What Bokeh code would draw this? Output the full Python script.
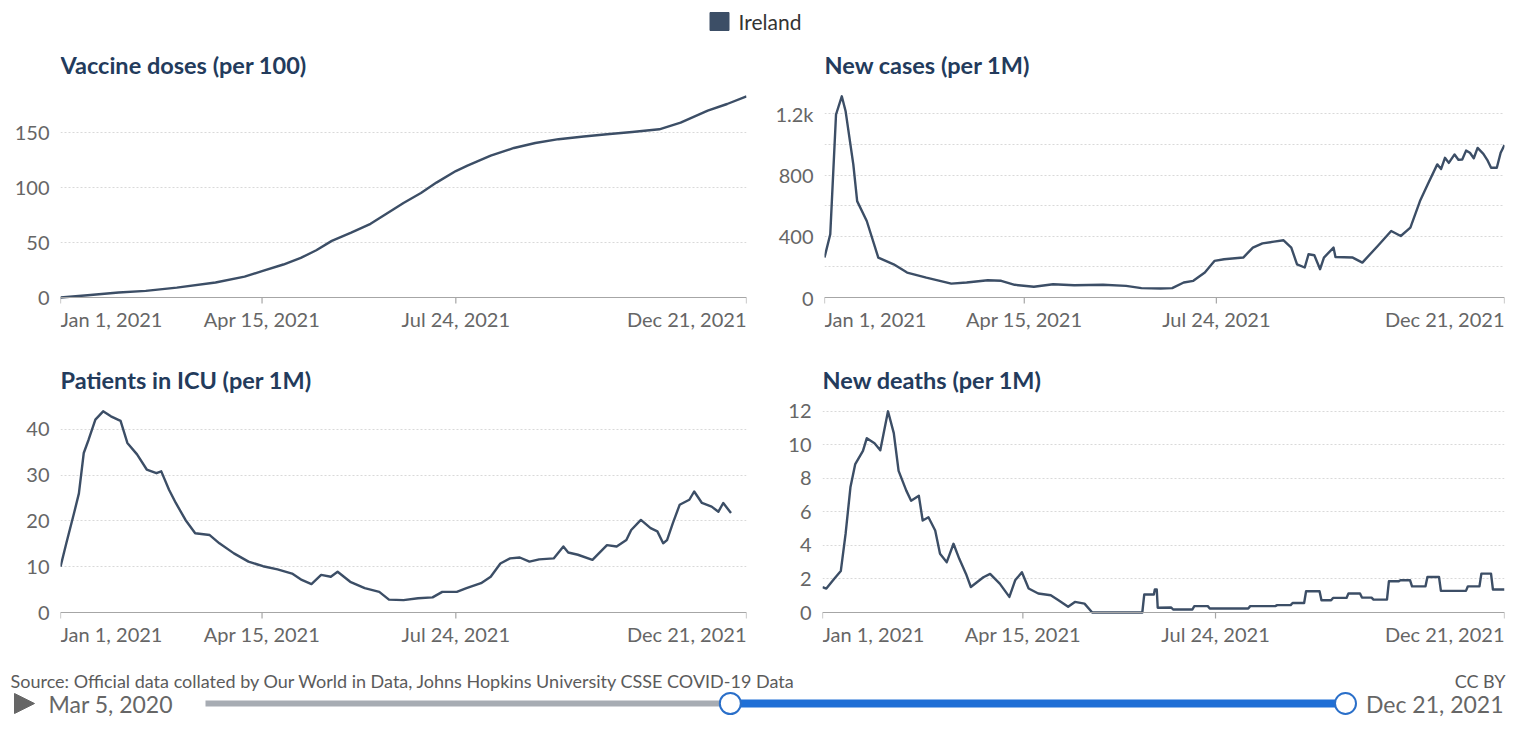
import pandas as pd
from bokeh.plotting import figure
from bokeh.layouts import column, row
from bokeh.models import Range1d, FixedTicker, Span
from bokeh.core.properties import value
from bokeh.embed import file_html
from bokeh.resources import INLINE

FONT = "Lato"
LINE_C = "#3c4e66"
TITLE_C = "#233b5c"
LABEL_C = "#666666"
GRID_C = "#d9d9d9"
AXIS_C = "#a6a6a6"

# ---------------- data ----------------
country = "Ireland"
x_start = "2021-01-01"
x_tick_dates = ["2021-01-01", "2021-04-15", "2021-07-24", "2021-12-21"]
x_tick_labels = ["Jan 1, 2021", "Apr 15, 2021", "Jul 24, 2021", "Dec 21, 2021"]

# days since 2021-01-01
vax_day = [0, 14, 30, 44, 60, 80, 95, 104, 115, 124, 132, 140, 150, 160, 168, 177,
           186, 194, 204, 210, 222, 234, 245, 257, 270, 282, 295, 309, 320, 334, 344, 354]
vax_val = [0, 2, 4.5, 6, 9, 13.6, 19, 24, 30, 36, 43, 51.5, 59, 67, 76, 86,
           95, 104.5, 115, 120, 129, 136, 140.5, 144, 146.5, 148.5, 150.5, 153, 159, 170, 176, 183]
vax_yticks = [0, 50, 100, 150]
vax_ylabels = ["0", "50", "100", "150"]

cases_day = [0, 3, 6, 9, 11, 15, 17, 22, 28, 36, 43, 53, 66, 74, 85, 92, 99, 109, 119, 130,
             145, 157, 165, 175, 181, 187, 192, 198, 203, 208, 218, 223, 228, 234, 239, 243,
             246, 250, 252, 255, 258, 260, 265, 266, 275, 280, 288, 295, 300, 305, 310, 314,
             319, 321, 323, 325, 328, 330, 332, 334, 336, 338, 340, 343, 345, 347, 350, 352, 354]
cases_val = [261, 413, 1196, 1315, 1217, 870, 630, 500, 261, 217, 163, 130, 91, 98, 113, 109,
             83, 70, 87, 80, 83, 76, 61, 59, 61, 98, 109, 163, 239, 250, 261, 326, 354, 365,
             374, 326, 217, 196, 283, 276, 185, 261, 326, 265, 261, 228, 337, 435, 402, 457,
             630, 739, 870, 840, 913, 880, 935, 900, 902, 960, 946, 910, 978, 939, 900, 848,
             848, 946, 996]
cases_yticks = [0, 200, 400, 600, 800, 1000, 1200]
cases_ylabels = ["0", "", "400", "", "800", "", "1.2k"]

icu_day = [0, 3, 7, 9.5, 12, 14.5, 18, 22, 26, 31, 34.5, 39.5, 44.5, 49.5, 52, 56, 59.5,
           64.5, 69.5, 77, 82, 89.5, 97, 104.5, 112, 119.5, 124.5, 129.5, 134.5, 139.5, 143,
           149.5, 157, 164.5, 169.5, 177, 184.5, 192, 197, 204.5, 209.5, 217, 222, 227, 232,
           237, 242, 247, 254.5, 259.5, 262, 267, 274.5, 282, 287, 292, 294.5, 299.5, 304.5,
           308, 311, 313, 316, 319.5, 324.5, 327, 331, 336, 339.5, 342, 346]
icu_val = [10, 15.1, 21.7, 26, 34.8, 37.7, 42.1, 43.9, 42.8, 41.8, 37, 34.5, 31.2, 30.4,
           30.8, 26.8, 23.9, 20.2, 17.3, 16.9, 15.1, 12.9, 11.1, 10.1, 9.4, 8.5, 7.1, 6.2,
           8.2, 7.8, 8.9, 6.7, 5.3, 4.5, 2.8, 2.7, 3.1, 3.3, 4.5, 4.5, 5.3, 6.4, 7.8, 10.7,
           11.8, 12.0, 11.1, 11.6, 11.8, 14.4, 13.1, 12.6, 11.5, 14.7, 14.4, 15.8, 18, 20.2,
           18.4, 17.7, 15.1, 15.8, 19.5, 23.5, 24.6, 26.4, 23.9, 23.1, 22, 23.9, 21.7]
icu_yticks = [0, 10, 20, 30, 40]
icu_ylabels = ["0", "10", "20", "30", "40"]

deaths_day = [0, 2, 6, 9.5, 12, 14.5, 17, 21, 23, 27, 30, 34, 37, 39.5, 43.5, 46, 50, 52,
              55, 58.5, 61, 64.5, 68, 71, 74.5, 77, 83.5, 87, 92, 97, 100, 103.5, 107, 112,
              118.5, 122.5, 127.5, 131, 136, 140, 166, 167, 172, 172.5, 173.5, 174, 181, 182,
              192, 193, 200, 201, 221, 222, 235, 236, 243, 244, 250, 251, 258, 259, 264, 265,
              272, 273, 279, 280, 285, 286, 293, 294, 299, 300, 305, 306, 313, 314, 320, 321,
              334, 335, 341, 342, 347, 348, 354]
deaths_val = [1.52, 1.43, 2.0, 2.47, 4.7, 7.47, 8.85, 9.64, 10.4, 10.1, 9.68, 12.0, 10.7,
              8.45, 7.27, 6.67, 6.97, 5.49, 5.68, 4.89, 3.5, 3.0, 4.1, 3.2, 2.3, 1.52, 2.1,
              2.3, 1.72, 0.93, 1.92, 2.4, 1.43, 1.13, 1.03, 0.73, 0.34, 0.63, 0.53, 0.0, 0.0,
              1.07, 1.07, 1.37, 1.37, 0.28, 0.3, 0.18, 0.18, 0.38, 0.38, 0.24, 0.24, 0.38,
              0.38, 0.44, 0.44, 0.57, 0.57, 1.27, 1.27, 0.73, 0.73, 0.87, 0.87, 1.13, 1.13,
              0.89, 0.89, 0.77, 0.77, 1.86, 1.86, 1.92, 1.92, 1.56, 1.56, 2.12, 2.12, 1.29,
              1.29, 1.56, 1.56, 2.32, 2.32, 1.37, 1.37]
deaths_yticks = [0, 2, 4, 6, 8, 10, 12]
deaths_ylabels = ["0", "2", "4", "6", "8", "10", "12"]

titles = ["Vaccine doses (per 100)", "New cases (per 1M)",
          "Patients in ICU (per 1M)", "New deaths (per 1M)"]

source_text = "Source: Official data collated by Our World in Data, Johns Hopkins University CSSE COVID-19 Data"
licence_text = "CC BY"
timeline_start = "2020-03-05"
timeline_sel_start = "2021-01-01"
timeline_end = "2021-12-21"

# ---------------- helpers ----------------
t0 = pd.Timestamp(x_start)
tick_days = [(pd.Timestamp(d) - t0).days for d in x_tick_dates]
x_end = tick_days[-1]
aligns = ["left"] + ["center"] * (len(tick_days) - 2) + ["right"]

DATA_H = 202     # px of the data area
EXTRA = 43       # px below the zero line holding the date axis
TICK_LEN = 6
LABEL_GAP = 9
TITLE_GAP = 31   # px from the top of the data area to the title centre


def panel(title, days, vals, yticks, ylabels, width, left, right, height, top_px, bottom):
    ymax = max(vals) * 1.004
    per_px = ymax / DATA_H
    ymin = -EXTRA * per_px
    ytop = ymax + top_px * per_px
    p = figure(width=width, height=height, x_range=Range1d(0, x_end),
               y_range=Range1d(ymin, ytop), output_backend="svg", title=None,
               toolbar_location=None, min_border_left=left, min_border_right=right,
               min_border_top=0, min_border_bottom=bottom)
    p.outline_line_color = None
    p.background_fill_color = "white"
    p.border_fill_color = "white"
    # y axis
    p.yaxis.ticker = FixedTicker(ticks=yticks)
    p.yaxis.major_label_overrides = {t: l for t, l in zip(yticks, ylabels)}
    p.yaxis.axis_line_color = None
    p.yaxis.major_tick_line_color = None
    p.yaxis.minor_tick_line_color = None
    p.yaxis.major_label_text_font = FONT
    p.yaxis.major_label_text_font_size = "20px"
    p.yaxis.major_label_text_color = LABEL_C
    p.yaxis.major_label_standoff = 5
    p.xaxis.visible = False
    p.xgrid.visible = False
    p.ygrid.grid_line_color = GRID_C
    p.ygrid.grid_line_dash = "2 2"
    # title inside the frame, above the data area
    p.text(x=[0], y=[ymax + TITLE_GAP * per_px], text=[title], text_align="left",
           text_baseline="middle", text_font=value(FONT), text_font_size=value("23.5px"),
           text_font_style="bold", text_color=TITLE_C)
    # date axis drawn inside the frame
    p.add_layout(Span(location=0, dimension="width", line_color=AXIS_C, line_width=1))
    p.segment(x0=tick_days, y0=[0] * len(tick_days), x1=tick_days,
              y1=[-TICK_LEN * per_px] * len(tick_days), line_color=AXIS_C, line_width=1.2)
    for d, txt, al in zip(tick_days, x_tick_labels, aligns):
        p.text(x=[d], y=[-LABEL_GAP * per_px], text=[txt], text_align=al,
               text_baseline="top", text_font=value(FONT), text_font_size=value("20px"),
               text_color=LABEL_C)
    p.line(days, vals, line_color=LINE_C, line_width=2.4, line_join="round")
    return p


W_L, W_R = 772, 735
p1 = panel(titles[0], vax_day, vax_val, vax_yticks, vax_ylabels, W_L, 60, 26, 300, 50, 5)
p2 = panel(titles[1], cases_day, cases_val, cases_yticks, cases_ylabels, W_R, 50, 3, 300, 50, 5)
p3 = panel(titles[2], icu_day, icu_val, icu_yticks, icu_ylabels, W_L, 60, 26, 310, 65, 0)
p4 = panel(titles[3], deaths_day, deaths_val, deaths_yticks, deaths_ylabels, W_R, 50, 3, 310, 65, 0)

TOTAL_W = W_L + W_R


def blank(h):
    f = figure(width=TOTAL_W, height=h, x_range=Range1d(0, TOTAL_W), y_range=Range1d(0, h),
               output_backend="svg", toolbar_location=None, min_border=0)
    f.axis.visible = False
    f.grid.visible = False
    f.outline_line_color = None
    return f


# header legend
HDR_H = 45
hdr = blank(HDR_H)
hdr.rect(x=[719], y=[HDR_H - 21], width=19, height=18, fill_color=LINE_C, line_color=LINE_C)
hdr.text(x=[738], y=[HDR_H - 21], text=[country], text_baseline="middle", text_align="left",
         text_font=value(FONT), text_font_size=value("21px"), text_color="#333333")

# footer: source + timeline
FTR_H = 65
ftr = blank(FTR_H)
ftr.text(x=[10], y=[FTR_H - 25], text=[source_text], text_baseline="middle", text_align="left",
         text_font=value(FONT), text_font_size=value("18px"), text_color="#5b5b5b")
ftr.text(x=[TOTAL_W - 2], y=[FTR_H - 25], text=[licence_text], text_baseline="middle",
         text_align="right", text_font=value(FONT), text_font_size=value("18px"),
         text_color="#5b5b5b")

ts, tsel, te = pd.Timestamp(timeline_start), pd.Timestamp(timeline_sel_start), pd.Timestamp(timeline_end)
TRACK_X0, TRACK_X1 = 205, 1345


def tx(d):
    return TRACK_X0 + (d - ts).days / (te - ts).days * (TRACK_X1 - TRACK_X0)


def fmt(d):
    return f"{d:%b} {d.day}, {d.year}"


TY = 17
ftr.line([tx(ts), tx(tsel)], [TY, TY], line_color="#a7acb3", line_width=6)
ftr.line([tx(tsel), tx(te)], [TY, TY], line_color="#1f6fd6", line_width=8)
ftr.scatter([tx(tsel), tx(te)], [TY, TY], size=21, fill_color="white",
            line_color="#2a6fc9", line_width=2)
ftr.patch([14, 34, 14], [TY + 10, TY, TY - 10], fill_color="#666666", line_color="#666666")
ftr.text(x=[48], y=[TY], text=[fmt(ts)], text_baseline="middle", text_align="left",
         text_font=value(FONT), text_font_size=value("23px"), text_color="#666666")
ftr.text(x=[TOTAL_W - 4], y=[TY], text=[fmt(te)], text_baseline="middle", text_align="right",
         text_font=value(FONT), text_font_size=value("23px"), text_color="#666666")

layout = column(hdr, row(p1, p2), row(p3, p4), ftr)
open("out.html", "w").write(file_html(layout, INLINE))
